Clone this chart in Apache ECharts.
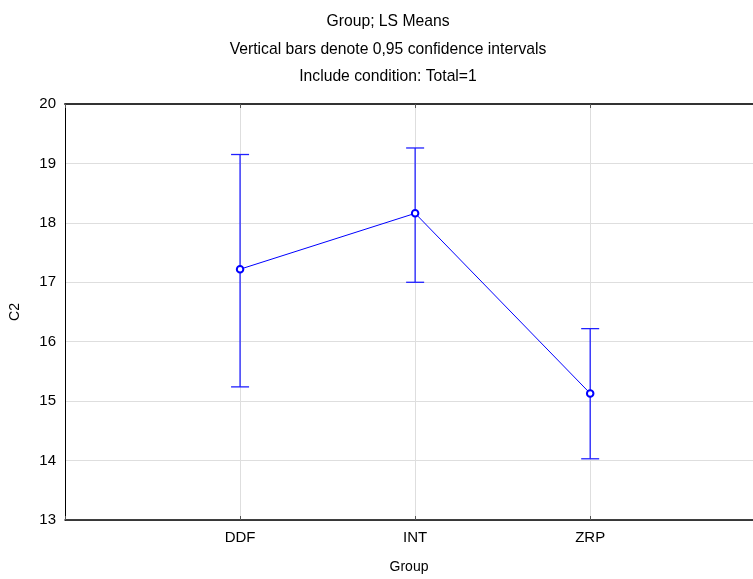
<!DOCTYPE html>
<html>
<head>
<meta charset="utf-8">
<script src="https://cdn.jsdelivr.net/npm/echarts@6/dist/echarts.min.js"></script>
<style>html,body{margin:0;padding:0;background:#fff;}#c{width:753px;height:579px;}</style>
</head>
<body>
<div id="c"></div>
<script>
const groups = ['DDF', 'INT', 'ZRP'];
const means = [17.22, 18.16, 15.13];
const lower = [15.24, 17.00, 14.03];
const upper = [19.15, 19.26, 16.22];
const yTicks = [13, 14, 15, 16, 17, 18, 19, 20];
const titleLines = ['Group; LS Means', 'Vertical bars denote 0,95 confidence intervals', 'Include condition: Total=1'];

const FONT = 'Liberation Sans, Arial, sans-serif';
const slotLabels = [''].concat(groups, ['']);
const X_MAX = 3.93;
const chart = echarts.init(document.getElementById('c'), null, {renderer: 'canvas'});
const option = {
  backgroundColor: '#fff',
  animation: false,
  title: {
    text: titleLines.join('\n'),
    left: 383,
    top: 3,
    textAlign: 'center',
    textStyle: {fontFamily: FONT, fontSize: 15.7, fontWeight: 'normal', color: '#000', lineHeight: 27.5}
  },
  grid: {left: 65, right: 0, top: 104, bottom: 58.5, containLabel: false},
  xAxis: [{
    type: 'value', min: 0, max: X_MAX, interval: 1, position: 'bottom',
    name: 'Group', nameLocation: 'middle', nameGap: 40,
    nameTextStyle: {fontFamily: FONT, fontSize: 14, color: '#000'},
    axisLine: {show: true, lineStyle: {color: '#000', width: 1.5}},
    axisTick: {show: true, inside: true, length: 4, lineStyle: {color: '#555'}},
    axisLabel: {fontFamily: FONT, fontSize: 15, color: '#000', margin: 10, showMaxLabel: false,
      formatter: v => (Number.isInteger(v) ? (slotLabels[v] || '') : '')},
    splitLine: {show: true, showMaxLine: false, lineStyle: {color: '#dedede', width: 1}}
  }, {
    type: 'value', min: 0, max: X_MAX, interval: 1, position: 'top',
    axisLine: {show: true, lineStyle: {color: '#333', width: 2}},
    axisTick: {show: true, inside: true, length: 4, lineStyle: {color: '#555'}},
    axisLabel: {show: false},
    splitLine: {show: false}
  }],
  yAxis: {
    type: 'value', min: yTicks[0], max: yTicks[yTicks.length - 1], interval: 1,
    name: 'C2', nameLocation: 'middle', nameGap: 43, nameRotate: 90,
    nameTextStyle: {fontFamily: FONT, fontSize: 14, color: '#000'},
    axisLine: {show: true, lineStyle: {color: '#000', width: 1}},
    axisTick: {show: false},
    axisLabel: {fontFamily: FONT, fontSize: 15, color: '#000', margin: 9},
    splitLine: {show: true, lineStyle: {color: '#dedede', width: 1}}
  },
  series: [{
    type: 'custom',
    name: 'CI',
    data: groups.map((g, i) => [i + 1, lower[i], upper[i]]),
    renderItem: function (params, api) {
      const x = api.value(0);
      const lo = api.coord([x, api.value(1)]);
      const hi = api.coord([x, api.value(2)]);
      const hw = 9;
      const style = {stroke: '#2020ff', lineWidth: 1.3};
      return {
        type: 'group',
        children: [
          {type: 'line', shape: {x1: lo[0], y1: lo[1], x2: hi[0], y2: hi[1]}, style: style},
          {type: 'line', shape: {x1: hi[0] - hw, y1: hi[1], x2: hi[0] + hw, y2: hi[1]}, style: style},
          {type: 'line', shape: {x1: lo[0] - hw, y1: lo[1], x2: lo[0] + hw, y2: lo[1]}, style: style}
        ]
      };
    },
    z: 2
  }, {
    type: 'line',
    name: 'Mean',
    data: groups.map((g, i) => [i + 1, means[i]]),
    symbol: 'circle',
    symbolSize: 6.5,
    showAllSymbol: true,
    lineStyle: {color: '#0000ff', width: 1},
    itemStyle: {color: '#ffffff', borderColor: '#0000ff', borderWidth: 2},
    z: 3
  }]
};
chart.setOption(option);
</script>
</body>
</html>
